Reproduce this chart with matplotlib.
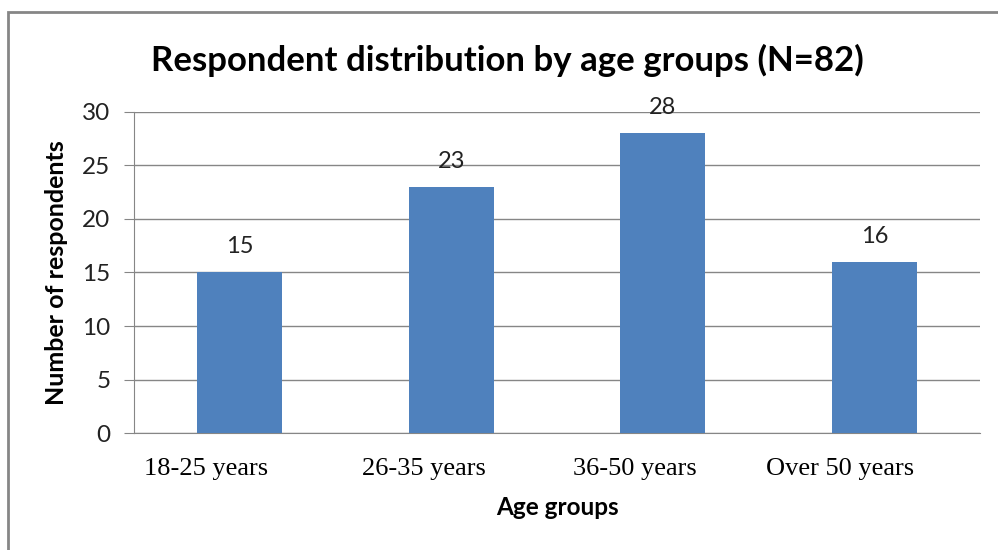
import matplotlib.pyplot as plt
from matplotlib.patches import Rectangle

# data
age_groups = ["18-25 years", "26-35 years", "36-50 years", "Over 50 years"]
respondents = [15, 23, 28, 16]

title = "Respondent distribution by age groups (N=82)"
bar_color = "#4F81BD"
grid_color = "#868686"
sans = ["Lato", "DejaVu Sans"]

fig = plt.figure(figsize=(9.98, 5.5), dpi=100)
ax = fig.add_axes([0.1343, 0.2127, 0.982 - 0.1343, 0.7964 - 0.2127])

x = list(range(len(age_groups)))
ax.bar(x, respondents, width=0.4, color=bar_color, zorder=3)
for xi, v in zip(x, respondents):
    ax.annotate(str(v), (xi, v), xytext=(0, 11), textcoords="offset points",
                ha="center", va="bottom", fontsize=17, family=sans, color="#222222")

ax.set_xlim(-0.5, len(age_groups) - 0.5)
ax.set_ylim(0, 30)
ax.set_yticks(range(0, 31, 5))
ax.yaxis.grid(True, color=grid_color, linewidth=1, zorder=0)
ax.tick_params(axis="y", length=7, color=grid_color, labelsize=17.5, pad=10)
for lbl in ax.get_yticklabels():
    lbl.set_family(sans)
    lbl.set_color("#222222")

# category labels sit a bit left of the bars, as in the source
ax.set_xticks([])
label_shift = [-0.16, -0.13, -0.13, -0.16]
for xi, lab, s in zip(x, age_groups, label_shift):
    ax.text(xi + s, -3.4, lab, ha="center", va="center", fontsize=19,
            family="Liberation Serif", transform=ax.transData, clip_on=False)

for side in ["top", "right"]:
    ax.spines[side].set_visible(False)
ax.spines["left"].set_color(grid_color)
ax.spines["bottom"].set_color(grid_color)

ax.set_xlabel("Age groups", fontsize=17.5, fontweight="bold", family=sans, labelpad=45)
ax.set_ylabel("Number of respondents", fontsize=18, fontweight="bold", family=sans, labelpad=10)

fig.text(0.508, 0.891, title, ha="center", va="center", fontsize=25,
         fontweight="bold", family=sans)

# outer chart border
fig.patches.append(Rectangle((8 / 998, -0.05), 1.05, 1 - 12 / 550 + 0.05,
                             transform=fig.transFigure, fill=False,
                             edgecolor=grid_color, linewidth=2, clip_on=False))

fig.savefig("out.png", dpi=100)
